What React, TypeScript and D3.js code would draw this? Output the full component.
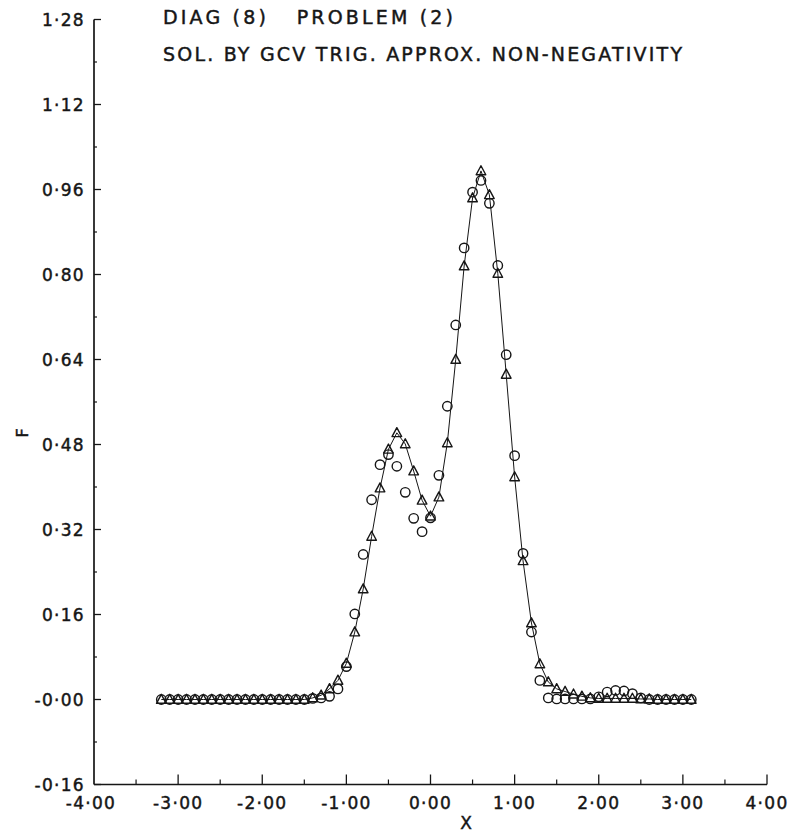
import React from 'react';
import * as d3 from 'd3';

const xValues = [
  -3.2, -3.1, -3.0, -2.9, -2.8, -2.7, -2.6, -2.5, -2.4, -2.3, -2.2, -2.1, -2.0, -1.9, -1.8, -1.7,
  -1.6, -1.5, -1.4, -1.3, -1.2, -1.1, -1.0, -0.9, -0.8, -0.7, -0.6, -0.5, -0.4, -0.3, -0.2, -0.1,
  0.0, 0.1, 0.2, 0.3, 0.4, 0.5, 0.6, 0.7, 0.8, 0.9, 1.0, 1.1, 1.2, 1.3, 1.4, 1.5,
  1.6, 1.7, 1.8, 1.9, 2.0, 2.1, 2.2, 2.3, 2.4, 2.5, 2.6, 2.7, 2.8, 2.9, 3.0, 3.1,
];

// Solution (triangles, joined by the line)
const triangleValues = [
  0, 0, 0, 0, 0, 0, 0, 0, 0, 0, 0, 0, 0, 0, 0, 0,
  0, 0, 0.003, 0.008, 0.02, 0.036, 0.068, 0.127, 0.208, 0.307, 0.398, 0.471, 0.502, 0.481, 0.43, 0.375,
  0.345, 0.381, 0.483, 0.64, 0.816, 0.944, 0.995, 0.95, 0.802, 0.612, 0.419, 0.261, 0.144, 0.067, 0.033, 0.02,
  0.015, 0.01, 0.006, 0.003, 0.002, 0.002, 0.002, 0.002, 0.002, 0.001, 0.001, 0, 0, 0, 0, 0,
];

// True function (circles)
const circleValues = [
  0, 0, 0, 0, 0, 0, 0, 0, 0, 0, 0, 0, 0, 0, 0, 0,
  0, 0, 0.002, 0.003, 0.006, 0.02, 0.062, 0.161, 0.273, 0.376, 0.442, 0.461, 0.439, 0.39, 0.341, 0.316,
  0.342, 0.422, 0.552, 0.705, 0.85, 0.955, 0.977, 0.934, 0.817, 0.649, 0.459, 0.275, 0.127, 0.036, 0.003, 0.001,
  0.001, 0.001, 0.001, 0.001, 0.005, 0.014, 0.017, 0.016, 0.011, 0.003, 0, 0, 0, 0, 0, 0,
];

const yTickValues = [1.28, 1.12, 0.96, 0.8, 0.64, 0.48, 0.32, 0.16, 0.0, -0.16];
const yTickLabels = ['1·28', '1·12', '0·96', '0·80', '0·64', '0·48', '0·32', '0·16', '-0·00', '-0·16'];
const yMinorValues = [1.2, 1.04, 0.88, 0.72, 0.56, 0.4, 0.24, 0.08, -0.08];
const xTickValues = [-4, -3, -2, -1, 0, 1, 2, 3, 4];
const xTickLabels = ['-4·00', '-3·00', '-2·00', '-1·00', '0·00', '1·00', '2·00', '3·00', '4·00'];
const xMinorValues = [-3.5, -2.5, -1.5, -0.5, 0.5, 1.5, 2.5, 3.5];

const titleLine1 = 'DIAG (8)   PROBLEM (2)';
const titleLine2 = 'SOL. BY GCV TRIG. APPROX. NON-NEGATIVITY';
const yLabel = 'F';
const xLabel = 'X';

const W = 797;
const H = 840;
const FONT = '"DejaVu Sans", sans-serif';
const INK = '#161616';

export default function App() {
  const x = d3.scaleLinear().domain([-4, 4]).range([94, 767]);
  const y = d3.scaleLinear().domain([-0.16, 1.28]).range([784.5, 19.5]);

  const triData = xValues.map((v, i) => [v, triangleValues[i]] as [number, number]);
  const cirData = xValues.map((v, i) => [v, circleValues[i]] as [number, number]);

  const line = d3
    .line<[number, number]>()
    .x((d) => x(d[0]))
    .y((d) => y(d[1]));

  const axisX = x(-4);
  const axisY = y(-0.16);
  const textStroke = { stroke: INK, strokeWidth: 0.45 };

  return (
    <svg
      width={W}
      height={H}
      viewBox={`0 0 ${W} ${H}`}
      style={{ position: 'absolute', left: 0, top: 0, background: '#fff' }}
    >
      <rect x={0} y={0} width={W} height={H} fill="#fff" />
      {/* Titles */}
      <text x={163} y={24} fontFamily={FONT} fontSize={19} fill={INK} {...textStroke} textLength={290} lengthAdjust="spacing" xmlSpace="preserve">
        {titleLine1}
      </text>
      <text x={163} y={61} fontFamily={FONT} fontSize={19} fill={INK} {...textStroke} textLength={519} lengthAdjust="spacing">
        {titleLine2}
      </text>

      {/* Y axis */}
      <line x1={axisX} y1={y(1.28)} x2={axisX} y2={axisY} stroke={INK} strokeWidth={1.7} />
      {yTickValues.map((v, i) => (
        <g key={'yt' + i}>
          <line x1={axisX} x2={axisX + 7} y1={y(v)} y2={y(v)} stroke={INK} strokeWidth={1.3} />
          <text
            x={85}
            y={y(v)}
            dy="0.36em"
            textAnchor="end"
            fontFamily={FONT}
            fontSize={17}
            letterSpacing={1.3}
            fill={INK}
            {...textStroke}
          >
            {yTickLabels[i]}
          </text>
        </g>
      ))}
      {yMinorValues.map((v, i) => (
        <line key={'ym' + i} x1={axisX} x2={axisX + 3} y1={y(v)} y2={y(v)} stroke={INK} strokeWidth={1.2} />
      ))}

      {/* X axis */}
      <line x1={axisX} y1={axisY} x2={x(4)} y2={axisY} stroke={INK} strokeWidth={1.7} />
      {xTickValues.map((v, i) => (
        <g key={'xt' + i}>
          {i > 0 && <line x1={x(v)} x2={x(v)} y1={axisY} y2={axisY - 10} stroke={INK} strokeWidth={1.3} />}
          <text
            x={x(v) + (i === 0 ? -3 : 0)}
            y={803}
            dy="0.36em"
            textAnchor="middle"
            fontFamily={FONT}
            fontSize={17}
            letterSpacing={1.3}
            fill={INK}
            {...textStroke}
          >
            {xTickLabels[i]}
          </text>
        </g>
      ))}
      {xMinorValues.map((v, i) => (
        <line key={'xm' + i} x1={x(v)} x2={x(v)} y1={axisY} y2={axisY - 5} stroke={INK} strokeWidth={1.2} />
      ))}

      {/* Axis labels */}
      <text
        x={0}
        y={0}
        transform={`translate(22,433) rotate(-90)`}
        textAnchor="middle"
        dy="0.36em"
        fontFamily={FONT}
        fontSize={16}
        fill={INK}
        {...textStroke}
      >
        {yLabel}
      </text>
      <text x={466} y={823} dy="0.36em" textAnchor="middle" fontFamily={FONT} fontSize={17} fill={INK} {...textStroke}>
        {xLabel}
      </text>

      {/* Solution line */}
      <path d={line(triData) || ''} fill="none" stroke={INK} strokeWidth={1} />

      {/* Circles */}
      {cirData.map((d, i) => (
        <circle key={'c' + i} cx={x(d[0])} cy={y(d[1])} r={4.7} fill="none" stroke={INK} strokeWidth={1.4} />
      ))}
      {/* Triangles */}
      {triData.map((d, i) => {
        const cx = x(d[0]);
        const cy = y(d[1]);
        return (
          <path
            key={'t' + i}
            d={`M${cx},${cy - 5.2}L${cx - 4.8},${cy + 3.8}L${cx + 4.8},${cy + 3.8}Z`}
            fill="none"
            stroke={INK}
            strokeWidth={1.4}
            strokeLinejoin="round"
          />
        );
      })}
    </svg>
  );
}
